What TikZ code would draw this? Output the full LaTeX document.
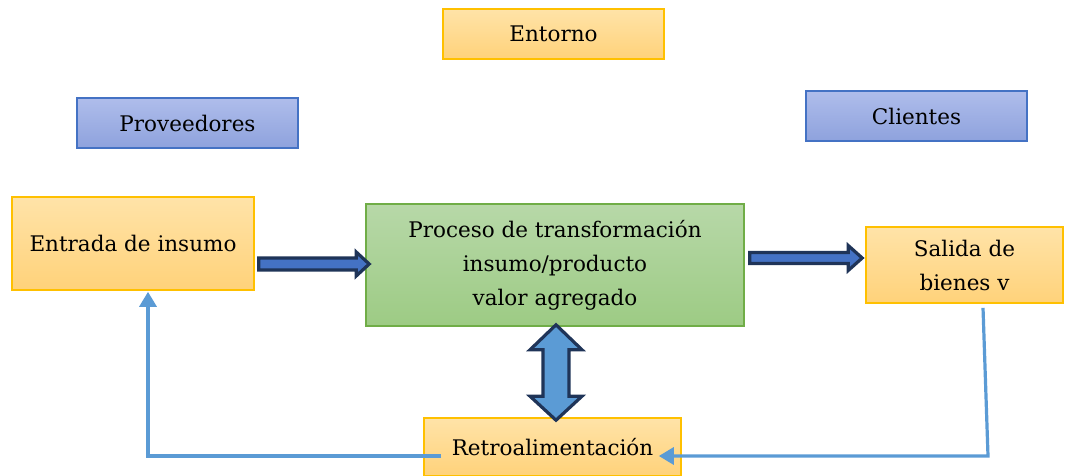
\documentclass[tikz,border=0pt]{standalone}
\usepackage{fontspec}
\setmainfont{DejaVu Serif}
\usetikzlibrary{calc,arrows.meta}
\definecolor{orTop}{HTML}{FFE3A8}
\definecolor{orBot}{HTML}{FFD27A}
\definecolor{orLine}{HTML}{FFC000}
\definecolor{blTop}{HTML}{AFBDEB}
\definecolor{blBot}{HTML}{8EA2DD}
\definecolor{blLine}{HTML}{4472C4}
\definecolor{grTop}{HTML}{B7D8A8}
\definecolor{grBot}{HTML}{9DCB84}
\definecolor{grLine}{HTML}{70AD47}
\definecolor{arFill}{HTML}{4472C4}
\definecolor{arFill2}{HTML}{5B9BD5}
\definecolor{arLine}{HTML}{1F3458}
\definecolor{fbLine}{HTML}{5B9BD5}
\tikzset{
  orbox/.style={draw=orLine, line width=1.6pt, top color=orTop, bottom color=orBot, align=center, inner sep=0pt},
  blbox/.style={draw=blLine, line width=1.6pt, top color=blTop, bottom color=blBot, align=center, inner sep=0pt},
  grbox/.style={draw=grLine, line width=1.6pt, top color=grTop, bottom color=grBot, align=center, inner sep=0pt},
  barrow/.style={draw=arLine, fill=arFill, line width=3.2pt, line join=miter},
  dbarrow/.style={draw=arLine, fill=arFill2, line width=3.2pt, line join=miter},
  fbline/.style={draw=fbLine, line width=3.2pt},
  txt/.style={font=\fontsize{21.5}{34}\selectfont}
}
\begin{document}
\begin{tikzpicture}[x=1pt,y=-1pt]
\useasboundingbox (0,0) rectangle (1067,476);
\node[orbox,txt,minimum width=221pt,minimum height=50pt] (entorno) at (553.5,34) {Entorno};
\node[blbox,txt,minimum width=221pt,minimum height=50pt] (prov) at (187.5,123) {Proveedores};
\node[blbox,txt,minimum width=221pt,minimum height=50pt] (clientes) at (916.5,116) {Clientes};
\node[orbox,txt,minimum width=242pt,minimum height=93pt] (entrada) at (133,243.5) {Entrada de insumo};
\node[grbox,txt,minimum width=378pt,minimum height=122pt] (proceso) at (555,265) {Proceso de transformación\\insumo/producto\\valor agregado};
\node[orbox,txt,minimum width=197pt,minimum height=76pt] (salida) at (964.5,265) {Salida de\\bienes v};
\node[orbox,txt,minimum width=257pt,minimum height=58pt] (retro) at (552.5,447) {Retroalimentación};
% block arrow entrada -> proceso
\coordinate (a1s) at ([xshift=4pt,yshift=1pt]entrada.east |- proceso.west);
\coordinate (a1e) at ([xshift=4pt,yshift=1pt]proceso.west);
\draw[barrow] let \p1=(a1s), \p2=(a1e) in
  (\x1,\y1+6pt) -- (\x2-13pt,\y1+6pt) -- (\x2-13pt,\y1+12pt) -- (\x2,\y1) --
  (\x2-13pt,\y1-12pt) -- (\x2-13pt,\y1-6pt) -- (\x1,\y1-6pt) -- cycle;
% block arrow proceso -> salida
\coordinate (a2s) at ([xshift=5pt,yshift=7pt]proceso.east);
\coordinate (a2e) at ([xshift=-3pt,yshift=7pt]salida.west);
\draw[barrow] let \p1=(a2s), \p2=(a2e) in
  (\x1,\y1+5.5pt) -- (\x2-14pt,\y1+5.5pt) -- (\x2-14pt,\y1+12.5pt) -- (\x2,\y1) --
  (\x2-14pt,\y1-12.5pt) -- (\x2-14pt,\y1-5.5pt) -- (\x1,\y1-5.5pt) -- cycle;
% double arrow proceso <-> retro
\coordinate (dt) at ([xshift=1pt,yshift=2pt]proceso.south);
\coordinate (db) at ([xshift=3.5pt,yshift=-3pt]retro.north);
\draw[dbarrow] let \p1=(dt), \p2=(db) in
  (\x1,\y1) -- (\x1+26pt,\y1-25pt) -- (\x1+13pt,\y1-25pt) -- (\x1+13pt,\y2+24pt) --
  (\x1+26pt,\y2+24pt) -- (\x1,\y2) -- (\x1-26pt,\y2+24pt) -- (\x1-13pt,\y2+24pt) --
  (\x1-13pt,\y1-25pt) -- (\x1-26pt,\y1-25pt) -- cycle;
% feedback lines
\draw[fbline,-{Triangle[width=17pt,length=15pt]}] ([xshift=18pt,yshift=-9pt]retro.west) -| ([xshift=15pt,yshift=-1pt]entrada.south);
\coordinate (corner) at (988,456);
\draw[fbline,-{Triangle[width=17pt,length=15pt]}] ([xshift=18.5pt,yshift=-4pt]salida.south) -- (corner) -- ([xshift=-23pt,yshift=-9pt]retro.east);
\end{tikzpicture}
\end{document}
